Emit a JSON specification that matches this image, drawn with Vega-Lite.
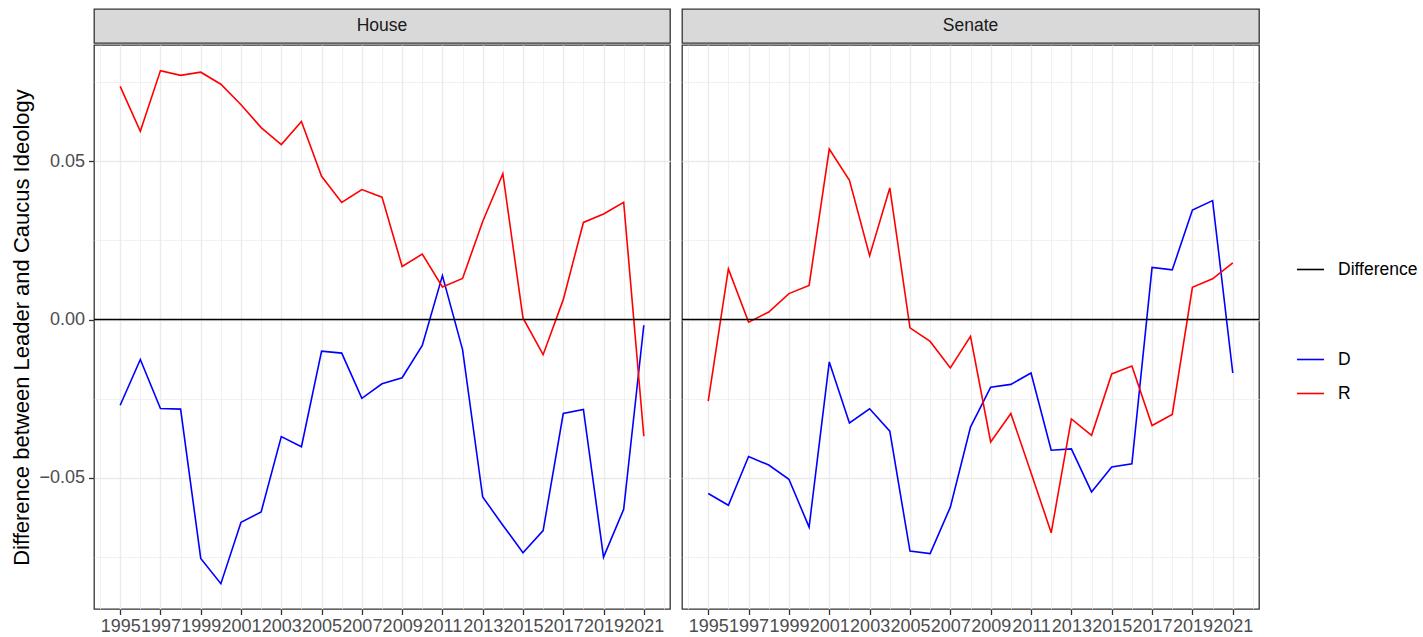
{
  "$schema": "https://vega.github.io/schema/vega-lite/v6.json",
  "background": "white",
  "padding": {"left": 10, "top": 8, "right": 0, "bottom": 0},
  "datasets": {
    "strips": [{"chamber": "House"}, {"chamber": "Senate"}],
    "ref": [{"line": "Difference", "y": 0}],
    "lines": [
      {"chamber":"House","party":"D","year":1995,"diff":-0.0271},
      {"chamber":"House","party":"D","year":1996,"diff":-0.0126},
      {"chamber":"House","party":"D","year":1997,"diff":-0.0281},
      {"chamber":"House","party":"D","year":1998,"diff":-0.0283},
      {"chamber":"House","party":"D","year":1999,"diff":-0.0755},
      {"chamber":"House","party":"D","year":2000,"diff":-0.0835},
      {"chamber":"House","party":"D","year":2001,"diff":-0.0641},
      {"chamber":"House","party":"D","year":2002,"diff":-0.0608},
      {"chamber":"House","party":"D","year":2003,"diff":-0.0370},
      {"chamber":"House","party":"D","year":2004,"diff":-0.0402},
      {"chamber":"House","party":"D","year":2005,"diff":-0.0100},
      {"chamber":"House","party":"D","year":2006,"diff":-0.0106},
      {"chamber":"House","party":"D","year":2007,"diff":-0.0249},
      {"chamber":"House","party":"D","year":2008,"diff":-0.0203},
      {"chamber":"House","party":"D","year":2009,"diff":-0.0184},
      {"chamber":"House","party":"D","year":2010,"diff":-0.0082},
      {"chamber":"House","party":"D","year":2011,"diff":0.0139},
      {"chamber":"House","party":"D","year":2012,"diff":-0.0095},
      {"chamber":"House","party":"D","year":2013,"diff":-0.0561},
      {"chamber":"House","party":"D","year":2014,"diff":-0.0650},
      {"chamber":"House","party":"D","year":2015,"diff":-0.0737},
      {"chamber":"House","party":"D","year":2016,"diff":-0.0667},
      {"chamber":"House","party":"D","year":2017,"diff":-0.0297},
      {"chamber":"House","party":"D","year":2018,"diff":-0.0284},
      {"chamber":"House","party":"D","year":2019,"diff":-0.0751},
      {"chamber":"House","party":"D","year":2020,"diff":-0.0600},
      {"chamber":"House","party":"D","year":2021,"diff":-0.0018},
      {"chamber":"House","party":"R","year":1995,"diff":0.0737},
      {"chamber":"House","party":"R","year":1996,"diff":0.0595},
      {"chamber":"House","party":"R","year":1997,"diff":0.0787},
      {"chamber":"House","party":"R","year":1998,"diff":0.0772},
      {"chamber":"House","party":"R","year":1999,"diff":0.0782},
      {"chamber":"House","party":"R","year":2000,"diff":0.0744},
      {"chamber":"House","party":"R","year":2001,"diff":0.0679},
      {"chamber":"House","party":"R","year":2002,"diff":0.0607},
      {"chamber":"House","party":"R","year":2003,"diff":0.0553},
      {"chamber":"House","party":"R","year":2004,"diff":0.0626},
      {"chamber":"House","party":"R","year":2005,"diff":0.0453},
      {"chamber":"House","party":"R","year":2006,"diff":0.0370},
      {"chamber":"House","party":"R","year":2007,"diff":0.0411},
      {"chamber":"House","party":"R","year":2008,"diff":0.0387},
      {"chamber":"House","party":"R","year":2009,"diff":0.0168},
      {"chamber":"House","party":"R","year":2010,"diff":0.0207},
      {"chamber":"House","party":"R","year":2011,"diff":0.0103},
      {"chamber":"House","party":"R","year":2012,"diff":0.0130},
      {"chamber":"House","party":"R","year":2013,"diff":0.0310},
      {"chamber":"House","party":"R","year":2014,"diff":0.0461},
      {"chamber":"House","party":"R","year":2015,"diff":0.0005},
      {"chamber":"House","party":"R","year":2016,"diff":-0.0111},
      {"chamber":"House","party":"R","year":2017,"diff":0.0063},
      {"chamber":"House","party":"R","year":2018,"diff":0.0307},
      {"chamber":"House","party":"R","year":2019,"diff":0.0334},
      {"chamber":"House","party":"R","year":2020,"diff":0.0371},
      {"chamber":"House","party":"R","year":2021,"diff":-0.0369},
      {"chamber":"Senate","party":"D","year":1995,"diff":-0.0550},
      {"chamber":"Senate","party":"D","year":1996,"diff":-0.0587},
      {"chamber":"Senate","party":"D","year":1997,"diff":-0.0433},
      {"chamber":"Senate","party":"D","year":1998,"diff":-0.0460},
      {"chamber":"Senate","party":"D","year":1999,"diff":-0.0505},
      {"chamber":"Senate","party":"D","year":2000,"diff":-0.0656},
      {"chamber":"Senate","party":"D","year":2001,"diff":-0.0134},
      {"chamber":"Senate","party":"D","year":2002,"diff":-0.0327},
      {"chamber":"Senate","party":"D","year":2003,"diff":-0.0282},
      {"chamber":"Senate","party":"D","year":2004,"diff":-0.0353},
      {"chamber":"Senate","party":"D","year":2005,"diff":-0.0732},
      {"chamber":"Senate","party":"D","year":2006,"diff":-0.0740},
      {"chamber":"Senate","party":"D","year":2007,"diff":-0.0593},
      {"chamber":"Senate","party":"D","year":2008,"diff":-0.0340},
      {"chamber":"Senate","party":"D","year":2009,"diff":-0.0214},
      {"chamber":"Senate","party":"D","year":2010,"diff":-0.0205},
      {"chamber":"Senate","party":"D","year":2011,"diff":-0.0169},
      {"chamber":"Senate","party":"D","year":2012,"diff":-0.0413},
      {"chamber":"Senate","party":"D","year":2013,"diff":-0.0409},
      {"chamber":"Senate","party":"D","year":2014,"diff":-0.0545},
      {"chamber":"Senate","party":"D","year":2015,"diff":-0.0466},
      {"chamber":"Senate","party":"D","year":2016,"diff":-0.0456},
      {"chamber":"Senate","party":"D","year":2017,"diff":0.0165},
      {"chamber":"Senate","party":"D","year":2018,"diff":0.0157},
      {"chamber":"Senate","party":"D","year":2019,"diff":0.0346},
      {"chamber":"Senate","party":"D","year":2020,"diff":0.0376},
      {"chamber":"Senate","party":"D","year":2021,"diff":-0.0169},
      {"chamber":"Senate","party":"R","year":1995,"diff":-0.0258},
      {"chamber":"Senate","party":"R","year":1996,"diff":0.0160},
      {"chamber":"Senate","party":"R","year":1997,"diff":-0.0008},
      {"chamber":"Senate","party":"R","year":1998,"diff":0.0024},
      {"chamber":"Senate","party":"R","year":1999,"diff":0.0082},
      {"chamber":"Senate","party":"R","year":2000,"diff":0.0108},
      {"chamber":"Senate","party":"R","year":2001,"diff":0.0539},
      {"chamber":"Senate","party":"R","year":2002,"diff":0.0440},
      {"chamber":"Senate","party":"R","year":2003,"diff":0.0202},
      {"chamber":"Senate","party":"R","year":2004,"diff":0.0416},
      {"chamber":"Senate","party":"R","year":2005,"diff":-0.0026},
      {"chamber":"Senate","party":"R","year":2006,"diff":-0.0069},
      {"chamber":"Senate","party":"R","year":2007,"diff":-0.0153},
      {"chamber":"Senate","party":"R","year":2008,"diff":-0.0053},
      {"chamber":"Senate","party":"R","year":2009,"diff":-0.0387},
      {"chamber":"Senate","party":"R","year":2010,"diff":-0.0297},
      {"chamber":"Senate","party":"R","year":2011,"diff":-0.0484},
      {"chamber":"Senate","party":"R","year":2012,"diff":-0.0674},
      {"chamber":"Senate","party":"R","year":2013,"diff":-0.0314},
      {"chamber":"Senate","party":"R","year":2014,"diff":-0.0366},
      {"chamber":"Senate","party":"R","year":2015,"diff":-0.0172},
      {"chamber":"Senate","party":"R","year":2016,"diff":-0.0147},
      {"chamber":"Senate","party":"R","year":2017,"diff":-0.0335},
      {"chamber":"Senate","party":"R","year":2018,"diff":-0.0300},
      {"chamber":"Senate","party":"R","year":2019,"diff":0.0102},
      {"chamber":"Senate","party":"R","year":2020,"diff":0.0129},
      {"chamber":"Senate","party":"R","year":2021,"diff":0.0179}
    ]
  },
  "config": {
    "font": "Liberation Sans",
    "view": {"stroke": "#333333", "strokeWidth": 1.3},
    "axis": {
      "domain": false,
      "gridColor": "#EBEBEB",
      "labelFontSize": 18,
      "labelColor": "#4D4D4D",
      "labelFont": "Liberation Sans",
      "tickColor": "#333333",
      "tickSize": 5.5,
      "tickWidth": 1.3,
      "labelOverlap": false,
      "labelFlush": false
    },
    "legend": {
      "orient": "none",
      "padding": 0,
      "symbolType": "stroke",
      "symbolSize": 729,
      "symbolStrokeWidth": 1.6,
      "labelFontSize": 17.5,
      "labelColor": "#000000",
      "labelFont": "Liberation Sans",
      "labelOffset": 13,
      "rowPadding": 11
    }
  },
  "spacing": 8,
  "hconcat": [
    {
      "spacing": 0,
      "vconcat": [
        {
          "data": {"name": "strips"},
          "transform": [{"filter": "datum.chamber === 'House'"}],
          "width": 576,
          "height": 34,
          "view": {"fill": "#D9D9D9", "stroke": "#333333", "strokeWidth": 1.3},
          "mark": {"type": "text", "fontSize": 17.5, "color": "#1A1A1A", "font": "Liberation Sans"},
          "encoding": {"text": {"field": "chamber", "type": "nominal"}}
        },
        {
          "width": 576,
          "height": 564,
          "layer": [
            {
              "data": {"name": "lines"},
              "transform": [{"filter": "datum.chamber === 'House'"}],
              "mark": {"type": "line", "strokeWidth": 1.6},
              "encoding": {
                "x": {
                  "field": "year", "type": "quantitative",
                  "scale": {"domain": [1993.7, 2022.3], "nice": false, "zero": false},
                  "axis": {
                    "title": null,
                    "values": [1994,1995,1996,1997,1998,1999,2000,2001,2002,2003,2004,2005,2006,2007,2008,2009,2010,2011,2012,2013,2014,2015,2016,2017,2018,2019,2020,2021,2022],
                    "format": "d",
                    "labelExpr": "datum.value % 2 === 1 ? datum.label : ''",
                    "labelPadding": 3,
                    "tickOpacity": {"condition": {"test": "datum.value % 2 === 0", "value": 0}, "value": 1},
                    "gridWidth": {"condition": {"test": "datum.value % 2 === 0", "value": 0.7}, "value": 1.4}
                  }
                },
                "y": {
                  "field": "diff", "type": "quantitative",
                  "scale": {"domain": [-0.0915, 0.0868], "nice": false, "zero": false},
                  "axis": {
                    "title": "Difference between Leader and Caucus Ideology",
                    "titleFontSize": 22,
                    "titleFontWeight": "normal",
                    "titleColor": "#000000",
                    "titleFont": "Liberation Sans",
                    "titlePadding": 5,
                    "values": [-0.075, -0.05, -0.025, 0, 0.025, 0.05, 0.075],
                    "format": ".2f",
                    "labelExpr": "abs(round(datum.value * 1000)) % 50 === 0 ? datum.label : ''",
                    "labelPadding": 4,
                    "tickOpacity": {"condition": {"test": "abs(round(datum.value * 1000)) % 50 !== 0", "value": 0}, "value": 1},
                    "gridWidth": {"condition": {"test": "abs(round(datum.value * 1000)) % 50 !== 0", "value": 0.7}, "value": 1.4}
                  }
                },
                "stroke": {
                  "field": "party", "type": "nominal",
                  "scale": {"domain": ["D", "R"], "range": ["#0000FF", "#FF0000"]},
                  "legend": {"title": null, "legendX": 1202, "legendY": 336}
                }
              }
            },
            {
              "data": {"name": "ref"},
              "mark": {"type": "rule", "strokeWidth": 1.6},
              "encoding": {
                "y": {"field": "y", "type": "quantitative"},
                "color": {
                  "field": "line", "type": "nominal",
                  "scale": {"domain": ["Difference"], "range": ["#000000"]},
                  "legend": {"title": null, "legendX": 1202, "legendY": 246}
                }
              }
            }
          ]
        }
      ]
    },
    {
      "spacing": 0,
      "vconcat": [
        {
          "data": {"name": "strips"},
          "transform": [{"filter": "datum.chamber === 'Senate'"}],
          "width": 577,
          "height": 34,
          "view": {"fill": "#D9D9D9", "stroke": "#333333", "strokeWidth": 1.3},
          "mark": {"type": "text", "fontSize": 17.5, "color": "#1A1A1A", "font": "Liberation Sans"},
          "encoding": {"text": {"field": "chamber", "type": "nominal"}}
        },
        {
          "width": 577,
          "height": 564,
          "layer": [
            {
              "data": {"name": "lines"},
              "transform": [{"filter": "datum.chamber === 'Senate'"}],
              "mark": {"type": "line", "strokeWidth": 1.6},
              "encoding": {
                "x": {
                  "field": "year", "type": "quantitative",
                  "scale": {"domain": [1993.7, 2022.3], "nice": false, "zero": false},
                  "axis": {
                    "title": null,
                    "values": [1994,1995,1996,1997,1998,1999,2000,2001,2002,2003,2004,2005,2006,2007,2008,2009,2010,2011,2012,2013,2014,2015,2016,2017,2018,2019,2020,2021,2022],
                    "format": "d",
                    "labelExpr": "datum.value % 2 === 1 ? datum.label : ''",
                    "labelPadding": 3,
                    "tickOpacity": {"condition": {"test": "datum.value % 2 === 0", "value": 0}, "value": 1},
                    "gridWidth": {"condition": {"test": "datum.value % 2 === 0", "value": 0.7}, "value": 1.4}
                  }
                },
                "y": {
                  "field": "diff", "type": "quantitative",
                  "scale": {"domain": [-0.0915, 0.0868], "nice": false, "zero": false},
                  "axis": {
                    "title": null,
                    "labels": false,
                    "ticks": false,
                    "minExtent": 0,
                    "values": [-0.075, -0.05, -0.025, 0, 0.025, 0.05, 0.075],
                    "gridWidth": {"condition": {"test": "abs(round(datum.value * 1000)) % 50 !== 0", "value": 0.7}, "value": 1.4}
                  }
                },
                "stroke": {
                  "field": "party", "type": "nominal",
                  "scale": {"domain": ["D", "R"], "range": ["#0000FF", "#FF0000"]},
                  "legend": {"title": null, "legendX": 1202, "legendY": 336}
                }
              }
            },
            {
              "data": {"name": "ref"},
              "mark": {"type": "rule", "strokeWidth": 1.6},
              "encoding": {
                "y": {"field": "y", "type": "quantitative"},
                "color": {
                  "field": "line", "type": "nominal",
                  "scale": {"domain": ["Difference"], "range": ["#000000"]},
                  "legend": {"title": null, "legendX": 1202, "legendY": 246}
                }
              }
            }
          ]
        }
      ]
    }
  ]
}
